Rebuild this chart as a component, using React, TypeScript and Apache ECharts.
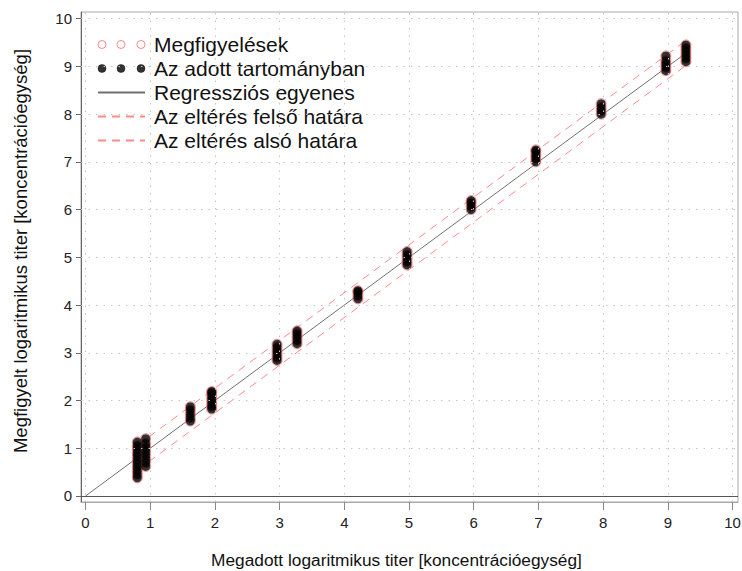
import React, { useEffect, useRef } from "react";
import * as echarts from "echarts";

const tickValues = [0, 1, 2, 3, 4, 5, 6, 7, 8, 9, 10];
const clusterX = [0.8, 0.93, 1.62, 1.95, 2.96, 3.27, 4.21, 4.97, 5.96, 6.96, 7.97, 8.97, 9.28];
const clusterY = [
  [0.38, 0.45, 0.53, 0.6, 0.68, 0.75, 0.83, 0.9, 0.98, 1.05, 1.13],
  [0.62, 0.7, 0.78, 0.86, 0.94, 1.02, 1.1, 1.2],
  [1.57, 1.64, 1.72, 1.8, 1.87],
  [1.82, 1.88, 1.95, 2.02, 2.09, 2.16, 2.19],
  [2.84, 2.9, 2.97, 3.04, 3.11, 3.18],
  [3.19, 3.26, 3.33, 3.4, 3.46],
  [4.13, 4.2, 4.27, 4.3],
  [4.84, 4.91, 4.98, 5.05, 5.12],
  [6.0, 6.07, 6.14, 6.19],
  [7.0, 7.07, 7.14, 7.21, 7.25],
  [8.0, 8.07, 8.14, 8.22],
  [8.91, 8.98, 9.05, 9.12, 9.22],
  [9.1, 9.17, 9.24, 9.31, 9.38, 9.45],
];
const regressionLine = [[0, 0], [9.28, 9.28]];
const upperBound = [[0.8, 1.06], [9.28, 9.54]];
const lowerBound = [[0.8, 0.54], [9.28, 9.02]];

const seriesNames = [
  "Megfigyelések",
  "Az adott tartományban",
  "Regressziós egyenes",
  "Az eltérés felső határa",
  "Az eltérés alsó határa",
];
const xTitle = "Megadott logaritmikus titer [koncentrációegység]";
const yTitle = "Megfigyelt logaritmikus titer [koncentrációegység]";

const FONT = "'Liberation Sans', Arial, Helvetica, sans-serif";
const RED = "#f26b6b";
const DASH_RED = "#ff8a8a";
const LINE_GRAY = "#707070";
const threeDots =
  "path://M0,4a4,4 0 1,0 8,0a4,4 0 1,0 -8,0M19,4a4,4 0 1,0 8,0a4,4 0 1,0 -8,0M39,4a4,4 0 1,0 8,0a4,4 0 1,0 -8,0";
const hiddenSymbol = { color: "transparent", borderColor: "transparent", borderWidth: 0 };

export default function App() {
  const ref = useRef<HTMLDivElement>(null);
  useEffect(() => {
    if (!ref.current) return;
    const chart = echarts.init(ref.current, null, { renderer: "svg" });
    const points: number[][] = [];
    clusterX.forEach((x, i) => clusterY[i].forEach((y) => points.push([x, y])));

    const gridMarks = [
      ...tickValues.map((v) => ({ xAxis: v })),
      ...tickValues.filter((v) => v !== 0).map((v) => ({ yAxis: v })),
    ];

    chart.setOption({
      animation: false,
      backgroundColor: "#ffffff",
      grid: {
        left: 81,
        right: 4,
        top: 12,
        bottom: 69,
        show: true,
        borderColor: "#a8a8a8",
        borderWidth: 1,
        containLabel: false,
        outerBoundsMode: "none",
      },
      legend: {
        orient: "vertical",
        left: 97,
        top: 34,
        padding: 0,
        itemWidth: 47,
        itemHeight: 8,
        itemGap: 3,
        selectedMode: false,
        textStyle: { fontFamily: FONT, fontSize: 21, color: "#111", lineHeight: 21, padding: [0, 0, 0, 4] },
        data: [
          { name: seriesNames[0], icon: threeDots, itemStyle: { color: "transparent", borderColor: RED, borderWidth: 1 } },
          { name: seriesNames[1], icon: threeDots, itemStyle: { color: "#000", borderColor: "#000", borderWidth: 0.5 } },
          { name: seriesNames[2], itemStyle: hiddenSymbol },
          { name: seriesNames[3], itemStyle: hiddenSymbol },
          { name: seriesNames[4], itemStyle: hiddenSymbol },
        ],
      },
      xAxis: {
        type: "value",
        min: -0.07,
        max: 10.085,
        name: xTitle,
        nameLocation: "middle",
        nameGap: 49,
        nameTextStyle: { fontFamily: FONT, fontSize: 17.3, color: "#111", padding: [0, 26, 0, 0] },
        axisLine: { show: true, onZero: false, lineStyle: { color: "#a8a8a8", width: 1 } },
        axisTick: { show: true, length: 8, customValues: tickValues, lineStyle: { color: "#888" } },
        axisLabel: { show: true, customValues: tickValues, margin: 13, fontFamily: FONT, fontSize: 15, color: "#222" },
        splitLine: { show: false },
      },
      yAxis: {
        type: "value",
        min: -0.126,
        max: 10.14,
        name: yTitle,
        nameLocation: "middle",
        nameGap: 51,
        nameTextStyle: { fontFamily: FONT, fontSize: 18.5, color: "#111", padding: [0, 0, 0, 12] },
        axisLine: { show: true, onZero: false, lineStyle: { color: "#666", width: 1 } },
        axisTick: { show: true, length: 5, customValues: tickValues, lineStyle: { color: "#666" } },
        axisLabel: { show: true, customValues: tickValues, margin: 9, fontFamily: FONT, fontSize: 15, color: "#222" },
        splitLine: { show: false },
      },
      series: [
        {
          name: "grid",
          type: "line",
          data: [],
          z: 1,
          silent: true,
          markLine: {
            silent: true,
            symbol: "none",
            label: { show: false },
            lineStyle: { color: "#c4c4c4", type: [1.5, 6], width: 1 },
            data: gridMarks,
          },
        },
        {
          name: "zero",
          type: "line",
          data: [],
          z: 1,
          silent: true,
          markLine: {
            silent: true,
            symbol: "none",
            label: { show: false },
            lineStyle: { color: "#555", type: "solid", width: 1.2 },
            data: [{ yAxis: 0 }],
          },
        },
        {
          name: seriesNames[2],
          type: "line",
          data: regressionLine,
          showSymbol: false,
          symbol: "none",
          lineStyle: { color: LINE_GRAY, width: 1 },
          itemStyle: { color: LINE_GRAY },
          z: 2,
        },
        {
          name: seriesNames[3],
          type: "line",
          data: upperBound,
          symbol: "none",
          lineStyle: { color: DASH_RED, width: 1, type: [8, 6] },
          itemStyle: { color: DASH_RED },
          z: 2,
        },
        {
          name: seriesNames[4],
          type: "line",
          data: lowerBound,
          symbol: "none",
          lineStyle: { color: DASH_RED, width: 1, type: [8, 6] },
          itemStyle: { color: DASH_RED },
          z: 2,
        },
        {
          name: seriesNames[0],
          type: "scatter",
          data: points,
          symbol: "circle",
          symbolSize: 10,
          itemStyle: { color: "transparent", borderColor: RED, borderWidth: 1 },
          z: 3,
        },
        {
          name: seriesNames[1],
          type: "scatter",
          data: points,
          symbol: "circle",
          symbolSize: 9,
          itemStyle: { color: "#000" },
          z: 4,
        },
      ],
    });
    return () => chart.dispose();
  }, []);
  return (
    <div
      ref={ref}
      style={{ position: "fixed", left: 0, top: 0, width: 742, height: 571, background: "#fff" }}
    />
  );
}
